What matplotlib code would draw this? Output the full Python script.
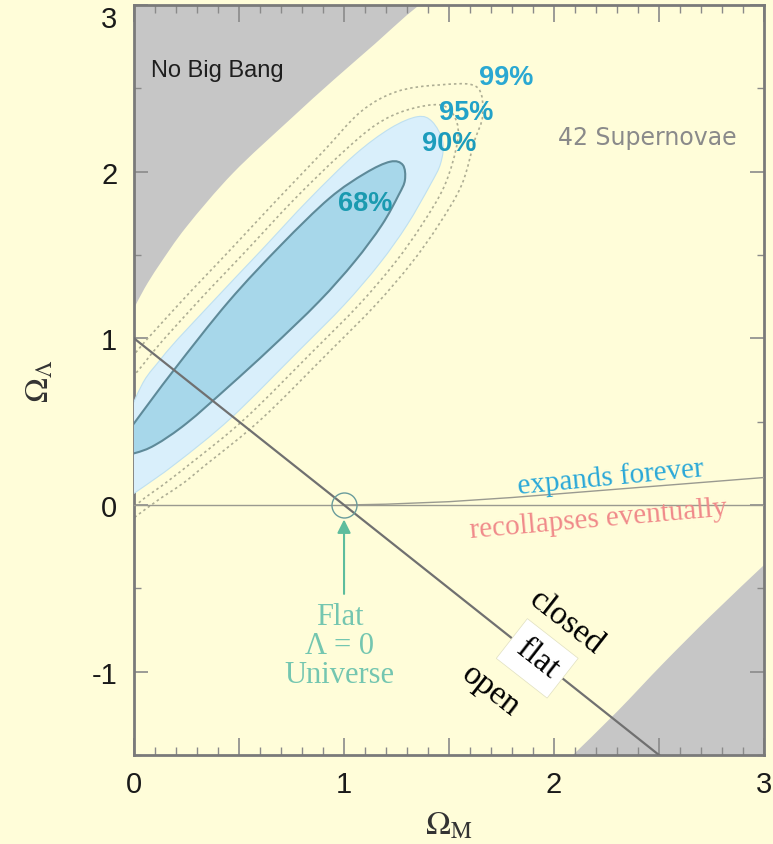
#!/usr/bin/env python3
"""Omega_M / Omega_Lambda plane: supernova confidence contours."""
import matplotlib
matplotlib.use('Agg')
import matplotlib.pyplot as plt
from matplotlib.path import Path
from matplotlib.patches import PathPatch
from matplotlib.ticker import MultipleLocator, FuncFormatter
import numpy as np

plt.rcParams.update({
    'font.family': ['Liberation Sans', 'DejaVu Sans'],
    'mathtext.fontset': 'stix',
})

BG = '#fffdd9'

# ---- data (Omega_M, Omega_Lambda) ----
# no big bang boundary (upper left)
nbb_x = [0.00, 0.05, 0.12, 0.25, 0.47, 0.74, 0.95, 1.15, 1.30, 1.40]
nbb_y = [1.18, 1.30, 1.44, 1.67, 1.99, 2.31, 2.55, 2.77, 2.94, 3.04]
# lower right excluded region
lr_x = [2.09, 2.30, 2.52, 2.75, 3.00]
lr_y = [-1.50, -1.24, -0.95, -0.66, -0.36]

# confidence contours (closed outlines)
c68_x = [-0.12, 0.00, 0.19, 0.45, 0.70, 0.93, 1.10, 1.22, 1.28, 1.29, 1.26,
         1.18, 1.05, 0.88, 0.65, 0.45, 0.25, 0.10, 0.00]
c68_y = [0.28, 0.49, 0.81, 1.22, 1.56, 1.84, 1.99, 2.06, 2.04, 1.95, 1.86,
         1.68, 1.46, 1.22, 0.94, 0.71, 0.49, 0.36, 0.31]
c90_x = [-0.20, 0.00, 0.13, 0.36, 0.60, 0.83, 1.05, 1.22, 1.35, 1.42, 1.47,
         1.46, 1.41, 1.30, 1.17, 1.00, 0.78, 0.46, 0.20, 0.00]
c90_y = [-0.10, 0.62, 0.88, 1.20, 1.52, 1.83, 2.10, 2.26, 2.33, 2.30, 2.18,
         2.05, 1.92, 1.68, 1.45, 1.20, 0.92, 0.52, 0.25, 0.07]
c95_x = [-0.30, -0.07, 0.06, 0.29, 0.53, 0.76, 0.98, 1.15, 1.30, 1.46, 1.53,
         1.54, 1.48, 1.37, 1.24, 1.07, 0.85, 0.53, 0.27, 0.07]
c95_y = [-0.25, 0.60, 0.87, 1.20, 1.52, 1.83, 2.10, 2.28, 2.37, 2.40, 2.32,
         2.18, 1.92, 1.68, 1.45, 1.20, 0.92, 0.52, 0.25, 0.06]
c99_x = [-0.40, -0.15, -0.02, 0.21, 0.45, 0.68, 0.90, 1.08, 1.25, 1.45, 1.63,
         1.66, 1.62, 1.56, 1.45, 1.32, 1.15, 0.93, 0.61, 0.35, 0.15]
c99_y = [-0.35, 0.60, 0.87, 1.20, 1.52, 1.83, 2.12, 2.36, 2.48, 2.52, 2.51,
         2.34, 2.18, 1.92, 1.68, 1.45, 1.20, 0.92, 0.52, 0.25, 0.06]

# flat universe line and expansion boundary
flat_x = [0.0, 2.5]
flat_y = [1.0, -1.5]
exp_x = [1.0, 1.2, 1.5, 1.8, 2.2, 2.6, 3.0]
exp_y = [0.0, 0.005, 0.02, 0.045, 0.085, 0.125, 0.165]
zero_x = [0.0, 3.0]
zero_y = [0.0, 0.0]

pct_labels = ['68%', '90%', '95%', '99%']
pct_x = [1.10, 1.50, 1.58, 1.77]
pct_y = [1.81, 2.17, 2.36, 2.57]

x_ticklabels = ['0', '1', '2', '3']
y_ticklabels = ['-1', '0', '1', '2', '3']


def smooth(xs, ys, closed=True):
    """Catmull-Rom through the points, as cubic bezier path pieces."""
    p = np.column_stack([xs, ys]).astype(float)
    n = len(p)
    verts = [p[0]]
    codes = [Path.MOVETO]
    segs = n if closed else n - 1
    for i in range(segs):
        p0 = p[(i - 1) % n] if (closed or i > 0) else p[0]
        p1 = p[i]
        p2 = p[(i + 1) % n]
        p3 = p[(i + 2) % n] if (closed or i + 2 < n) else p[-1]
        verts += [p1 + (p2 - p0) / 6, p2 - (p3 - p1) / 6, p2]
        codes += [Path.CURVE4] * 3
    return verts, codes


fig = plt.figure(figsize=(7.73, 8.45), dpi=100, facecolor=BG)
ax = fig.add_axes([0.1734, 0.1053, 0.8150, 0.8876])
ax.set_facecolor(BG)
ax.set_xlim(0, 3)
ax.set_ylim(-1.5, 3)

# grey excluded regions
v, c = smooth(nbb_x, nbb_y, closed=False)
v += [(-0.5, 3.5), (-0.5, 1.0), (0.0, 1.18)]
c += [Path.LINETO, Path.LINETO, Path.CLOSEPOLY]
ax.add_patch(PathPatch(Path(v, c), facecolor='#c6c6c6', edgecolor='none', zorder=1))
v, c = smooth(lr_x, lr_y, closed=False)
v += [(3.5, -0.36), (3.5, -2.0), (2.09, -2.0), (2.09, -1.5)]
c += [Path.LINETO, Path.LINETO, Path.LINETO, Path.CLOSEPOLY]
ax.add_patch(PathPatch(Path(v, c), facecolor='#c6c6c6', edgecolor='none', zorder=1))

# contours
for cx, cy in [(c99_x, c99_y), (c95_x, c95_y)]:
    v, c = smooth(cx, cy)
    ax.add_patch(PathPatch(Path(v, c), facecolor='none', edgecolor='#aeae94',
                           lw=1.2, ls=(0, (1.5, 1.8)), zorder=2))
v, c = smooth(c90_x, c90_y)
ax.add_patch(PathPatch(Path(v, c), facecolor='#d9effb', edgecolor='#bfe0f0',
                       lw=0.8, zorder=3))
v, c = smooth(c68_x, c68_y)
ax.add_patch(PathPatch(Path(v, c), facecolor='#a7d7ea', edgecolor='#5e8a99',
                       lw=1.5, zorder=4))

# lines
ax.plot(zero_x, zero_y, color='#9a9a90', lw=1.0, zorder=5)
ax.plot(exp_x, exp_y, color='#9a9a90', lw=1.0, zorder=5)
ax.plot(flat_x, flat_y, color='#707070', lw=1.6, zorder=6)
ax.plot([1.0], [0.0], marker='o', ms=18, mfc='none', mec='#6a9c9c', mew=1.0, zorder=7)

ax.annotate('', xy=(1.0, -0.07), xytext=(1.0, -0.55),
            arrowprops=dict(arrowstyle='-|>', color='#5dbd9d', lw=1.5,
                            mutation_scale=20), zorder=7)

# text
serif = ['Liberation Serif', 'DejaVu Serif']
ax.text(0.08, 2.61, 'No Big Bang', fontsize=17, color='#1e1e1e', va='center', zorder=8)
ax.text(2.02, 2.21, '42 Supernovae', family=['DejaVu Sans'], fontsize=17,
        color='#8a8a8a', va='center', zorder=8)
pct_cols = ['#1a9ab0', '#1d9cbc', '#22a2c8', '#2aa8d2']
for lab, px, py, col in zip(pct_labels, pct_x, pct_y, pct_cols):
    ax.text(px, py, lab, fontsize=19.5, fontweight='bold', color=col,
            ha='center', va='center', zorder=8)

ax.text(2.27, 0.17, 'expands forever', family=serif, fontsize=21, color='#2aa8d8',
        rotation=5.5, ha='center', va='center', rotation_mode='anchor', zorder=8)
ax.text(2.21, -0.08, 'recollapses eventually', family=serif, fontsize=21,
        color='#f08a8a', rotation=5, ha='center', va='center',
        rotation_mode='anchor', zorder=8)

ang = -38.0
ax.text(2.06, -0.70, 'closed', family=serif, fontsize=24, color='black',
        rotation=ang, ha='center', va='center', rotation_mode='anchor', zorder=8)
ax.text(1.70, -1.11, 'open', family=serif, fontsize=24, color='black',
        rotation=ang, ha='center', va='center', rotation_mode='anchor', zorder=8)
ax.text(1.92, -0.92, 'flat', family=serif, fontsize=24, color='black',
        rotation=ang, ha='center', va='center', rotation_mode='anchor', zorder=8,
        bbox=dict(boxstyle='square,pad=0.3', facecolor='white', edgecolor='#e0e0c0', lw=0.5))

ax.text(0.98, -0.845, 'Flat\n\u039b = 0\nUniverse', family=serif, fontsize=22,
        color='#74c6b0', ha='center', va='center', linespacing=1.0, zorder=8)

# axes styling
for s in ax.spines.values():
    s.set_color('#7a7a7a')
    s.set_linewidth(2.0)
ax.xaxis.set_major_locator(MultipleLocator(0.5))
ax.xaxis.set_minor_locator(MultipleLocator(0.1))
ax.yaxis.set_major_locator(MultipleLocator(1.0))
ax.yaxis.set_minor_locator(MultipleLocator(0.5))
ax.xaxis.set_major_formatter(FuncFormatter(
    lambda v, p: x_ticklabels[int(round(v))] if abs(v - round(v)) < 1e-6 and 0 <= round(v) <= 3 else ''))
# top label "3" is drawn lower so it stays inside the figure
ax.yaxis.set_major_formatter(FuncFormatter(
    lambda v, p: y_ticklabels[int(round(v)) + 1] if -1 <= round(v) < 3 else ''))
ax.annotate(y_ticklabels[-1], xy=(0, 3), xytext=(-12, -10), textcoords='offset points',
            ha='right', va='center', fontsize=21, color='#1a1a1a', annotation_clip=False)
ax.tick_params(which='both', direction='in', top=True, right=True, colors='#8a8a8a',
               labelcolor='#1a1a1a', labelsize=21)
ax.tick_params(axis='x', which='major', length=12, width=1.2, pad=11)
ax.tick_params(axis='x', which='minor', length=6, width=1.0)
ax.tick_params(axis='y', which='major', length=10, width=1.2, pad=12)
ax.tick_params(axis='y', which='minor', length=5, width=1.0)

ax.set_xlabel(r'$\Omega_{\rm M}$', fontsize=24, color='#333333', labelpad=8)
ax.set_ylabel(r'$\Omega_\Lambda$', fontsize=24, color='#333333', labelpad=26)

fig.savefig('out.png', dpi=100, facecolor=BG)
